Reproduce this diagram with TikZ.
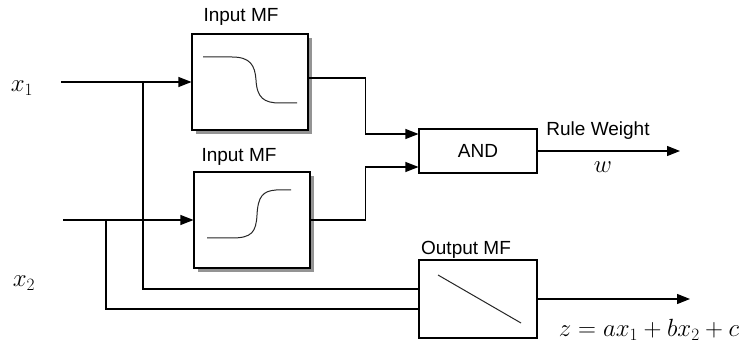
\documentclass[tikz,border=0pt]{standalone}
\usepackage{fontspec}
\setmainfont{Liberation Sans}
\usetikzlibrary{positioning,arrows.meta,shadows}

\begin{document}
\begin{tikzpicture}[x=1pt,y=-1pt,line width=1.1pt,
    every node/.style={font=\fontsize{19}{22}\selectfont,inner sep=0pt},
    mfbox/.style={draw,fill=white,minimum width=116pt,minimum height=96pt,
      drop shadow={shadow xshift=4pt,shadow yshift=-4pt,fill=black!70,opacity=0.6}},
    gatebox/.style={draw,fill=white,minimum width=118pt},
    flow/.style={-{Triangle[length=13pt,width=10pt]}},
    curve/.style={line width=1pt,black!85},
    mathlbl/.style={font=\fontsize{24}{28}\selectfont}]
  \useasboundingbox (0,0) rectangle (739,347);
  % blocks
  \node[mfbox] (in1) at (250,82) {};
  \node[mfbox] (in2) at (252,220) {};
  \node[gatebox,minimum height=44pt] (andg) at (478,151) {AND};
  \node[gatebox,minimum height=78pt] (outmf) at (478,299) {};
  \node (in1lbl) at (241,17) {Input MF};
  \node (in2lbl) at (239,157) {Input MF};
  \node (outlbl) at (466,250) {Output MF};
  % membership curves
  \draw[curve] (203,57) -- (232,57) .. controls (250,57) and (255,65) .. (256,80)
    .. controls (257,98) and (264,103) .. (280,103) -- (297,103);
  \draw[curve] (207,238) -- (232,238) .. controls (252,238) and (256,232) .. (257,215)
    .. controls (258,196) and (263,191) .. (276,190) -- (291,190);
  \draw[curve] (438,275) -- (521,323);
  % inputs
  \coordinate (x1s) at (61,82);
  \coordinate (x2s) at (63,220);
  \coordinate (b1) at (143,82);
  \coordinate (b2) at (106,220);
  \node[mathlbl] (x1lbl) at (22,88) {$x_1$};
  \node[mathlbl] (x2lbl) at (24,283) {$x_2$};
  \draw[flow] (x1s) -- (in1.west);
  \draw[flow] (x2s) -- (in2.west);
  \draw (b1) |- ([yshift=10pt]outmf.west);
  \draw (b2) |- ([yshift=-10pt]outmf.west);
  % to the AND block
  \draw[flow] ([yshift=4pt]in1.east) -- ++(57,0) |- ([yshift=17pt]andg.west);
  \draw[flow] (in2.east) -- ++(55,0) |- ([yshift=-16pt]andg.west);
  % outputs
  \coordinate (rwend) at (680,151);
  \coordinate (zend) at (690,299);
  \draw[flow] (andg.east) -- (rwend);
  \draw[flow] (outmf.east) -- (zend);
  \node (rwlbl) at (598,131) {Rule Weight};
  \node[mathlbl] (wlbl) at (603,167) {$w$};
  \node[mathlbl] (zlbl) at (649,330) {$z=ax_1+bx_2+c$};
\end{tikzpicture}
\end{document}
